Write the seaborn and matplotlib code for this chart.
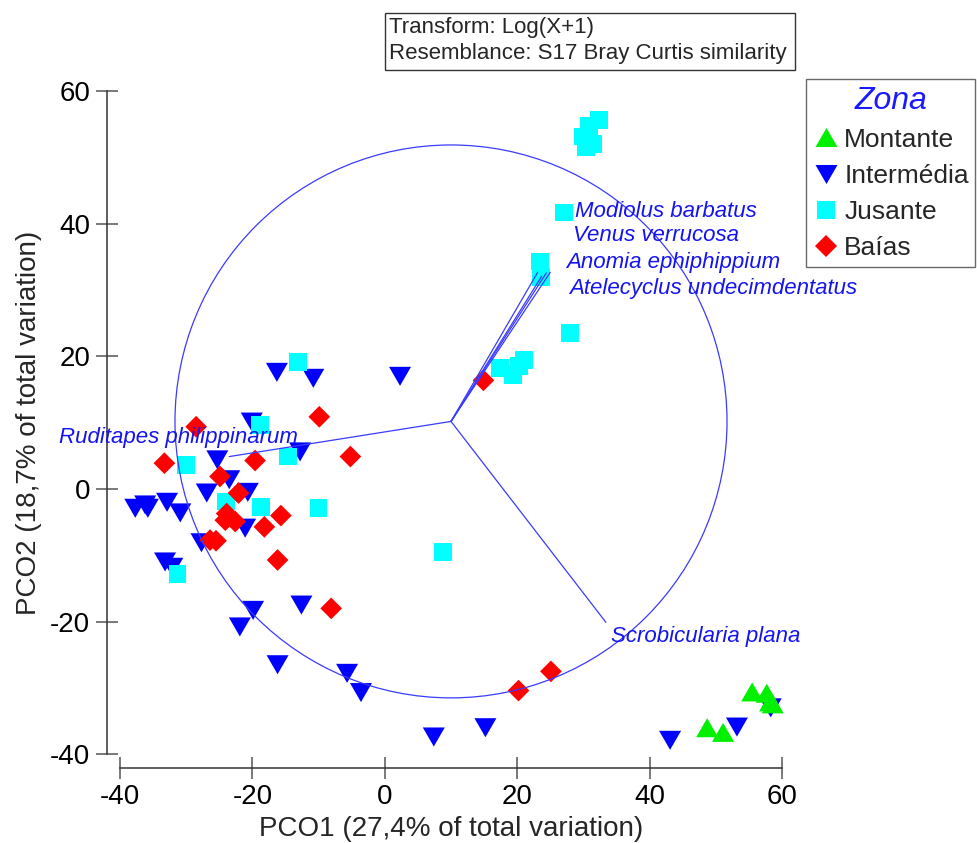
import matplotlib
matplotlib.use("Agg")
import numpy as np
import pandas as pd
import seaborn as sns
import matplotlib.pyplot as plt
from matplotlib.patches import Circle, Rectangle
from matplotlib.lines import Line2D

# ---------------- data ----------------
zones = ["Montante", "Intermédia", "Jusante", "Baías"]

montante_x = [55.5, 57.7, 58.2, 58.6, 48.7, 51.1]
montante_y = [-30.6, -30.8, -32.1, -32.4, -36.0, -36.7]

intermedia_x = [-16.3, -10.8, 2.3, -20.1, -12.8, -25.3, -23.5, -26.9, -20.7, -21.1,
                -27.7, -37.7, -36.2, -35.8, -32.9, -30.9, -33.2, -32.1, -19.9, -21.9,
                -12.6, -16.2, -5.7, -3.6, 7.4, 15.2, 43.1, 53.2, 58.3]
intermedia_y = [17.6, 16.7, 17.0, 10.1, 5.6, 4.4, 1.4, -0.6, -0.5, -5.9,
                -8.1, -2.9, -2.4, -2.9, -2.0, -3.6, -11.0, -11.8, -18.3, -20.8,
                -17.5, -26.5, -27.8, -30.7, -37.4, -36.0, -37.9, -35.9, -33.0]

jusante_x = [32.4, 30.8, 29.9, 31.5, 30.4, 27.1, 23.4, 23.6, 28.0, 17.4, 19.4,
             21.0, 20.3, 8.8, -13.1, -18.9, -30.0, -14.6, -24.0, -18.7, -10.0, -31.3]
jusante_y = [55.7, 54.8, 53.2, 52.0, 51.6, 41.7, 34.3, 32.0, 23.5, 18.3, 17.2,
             19.5, 18.6, -9.5, 19.2, 9.7, 3.6, 4.9, -1.9, -2.7, -2.9, -12.8]

baias_x = [-28.5, -9.9, -33.3, -19.6, -5.2, -24.9, -22.1, -23.9, -24.1, -22.6,
           -15.7, -18.2, -26.4, -25.5, -16.2, -8.1, 20.2, 25.1, 14.9]
baias_y = [9.4, 10.9, 3.9, 4.3, 4.9, 1.9, -0.6, -3.7, -4.7, -4.9,
           -4.0, -5.7, -7.7, -7.8, -10.7, -18.0, -30.4, -27.5, 16.4]

# species vectors (from origin)
vec_origin = (10.0, 10.2)
vec_names = ["Modiolus barbatus", "Venus verrucosa", "Anomia ephiphippium",
             "Atelecyclus undecimdentatus", "Ruditapes philippinarum", "Scrobicularia plana"]
vec_x = [23.1, 23.7, 24.4, 25.0, -23.5, 33.4]
vec_y = [32.7, 32.1, 32.6, 32.7, 4.9, -20.1]
circle_radius = 41.7

x_ticks = [-40, -20, 0, 20, 40, 60]
y_ticks = [-40, -20, 0, 20, 40, 60]
x_label = "PCO1 (27,4% of total variation)"
y_label = "PCO2 (18,7% of total variation)"
info_lines = ["Transform: Log(X+1)", "Resemblance: S17 Bray Curtis similarity"]

# ---------------- layout / style ----------------
label_pos = {
    "Modiolus barbatus": (28.7, 41.8),
    "Venus verrucosa": (28.4, 38.2),
    "Anomia ephiphippium": (27.4, 34.2),
    "Atelecyclus undecimdentatus": (27.8, 30.2),
    "Ruditapes philippinarum": (-49.2, 7.8),
    "Scrobicularia plana": (34.2, -22.3),
}

palette = {"Montante": "#00f000", "Intermédia": "#0000ff",
           "Jusante": "#00ffff", "Baías": "#ff0000"}
tri_up = [(-1, -0.866), (1, -0.866), (0, 0.866)]
tri_down = [(-1, 0.866), (1, 0.866), (0, -0.866)]
markers = {"Montante": tri_up, "Intermédia": tri_down, "Jusante": "s", "Baías": "D"}
sizes = {"Montante": 251, "Intermédia": 251, "Jusante": 162, "Baías": 122}

sns.set_theme(style="white")
plt.rcParams["font.family"] = ["Liberation Sans", "DejaVu Sans"]
plt.rcParams["axes.unicode_minus"] = False

W, H = 977, 843
fig = plt.figure(figsize=(W / 100, H / 100), dpi=100)
ax = fig.add_axes([106.8 / W, 1 - 767.5 / H, 688.4 / W, 689.5 / H])

frames = []
for z, xs, ys in [("Intermédia", intermedia_x, intermedia_y),
                  ("Jusante", jusante_x, jusante_y),
                  ("Baías", baias_x, baias_y),
                  ("Montante", montante_x, montante_y)]:
    frames.append(pd.DataFrame({"PCO1": xs, "PCO2": ys, "Zona": z}))
df = pd.concat(frames, ignore_index=True)

sns.scatterplot(data=df, x="PCO1", y="PCO2", hue="Zona", style="Zona", size="Zona",
                hue_order=zones, style_order=zones, size_order=zones,
                palette=palette, markers=markers, sizes=sizes,
                linewidth=0, legend=False, ax=ax, clip_on=False, zorder=2)

line_col = "#3b3bff"
ax.add_patch(Circle(vec_origin, circle_radius, fill=False, edgecolor=line_col,
                    lw=0.9, zorder=3))
for name, vx, vy in zip(vec_names, vec_x, vec_y):
    ax.plot([vec_origin[0], vx], [vec_origin[1], vy], color=line_col, lw=0.9, zorder=3)
    lx, ly = label_pos[name]
    ax.text(lx, ly, name, color="#1414f0", fontsize=16, style="italic",
            ha="left", va="center", zorder=4, clip_on=False)

ax.set_xlim(-42, 62)
ax.set_ylim(-42, 62)
ax.set_xticks(x_ticks)
ax.set_yticks(y_ticks)
ax.set_xlabel(x_label, fontsize=20, labelpad=4)
ax.set_ylabel(y_label, fontsize=20, labelpad=6)

for s in ["top", "right"]:
    ax.spines[s].set_visible(False)
for s in ["left", "bottom"]:
    ax.spines[s].set_color("#333333")
    ax.spines[s].set_linewidth(1.1)
ax.spines["left"].set_bounds(-40, 60)
ax.spines["bottom"].set_bounds(-40, 60)
ax.tick_params(axis="both", which="major", bottom=True, left=True, direction="inout",
               length=16, width=1.1, color="#555555", labelsize=20, pad=4,
               labelcolor="black")

# legend
handles = [Line2D([], [], linestyle="none", marker=markers[z],
                  markersize=np.sqrt(sizes[z]), markerfacecolor=palette[z],
                  markeredgewidth=0) for z in zones]
leg = fig.legend(handles, zones, loc="upper left",
                 bbox_to_anchor=(806 / W, 1 - 79 / H), bbox_transform=fig.transFigure,
                 frameon=True, fancybox=False, fontsize=19, title="Zona",
                 title_fontproperties={"size": 23, "style": "italic"},
                 handlelength=1.0, handletextpad=0.2, labelspacing=0.46,
                 borderpad=0.25, borderaxespad=0, edgecolor="#444444")
leg.get_title().set_color("#1a1aff")
leg.get_frame().set_linewidth(1.0)

# info box
fig.add_artist(Rectangle((385 / W, 1 - 70 / H), 410 / W, 57 / H,
                         transform=fig.transFigure, fill=False,
                         edgecolor="#333333", lw=1.0))
fig.text(389 / W, 1 - 27 / H, info_lines[0], fontsize=16, ha="left", va="center")
fig.text(389 / W, 1 - 53 / H, info_lines[1], fontsize=16, ha="left", va="center")

fig.savefig("out.png", dpi=100)
